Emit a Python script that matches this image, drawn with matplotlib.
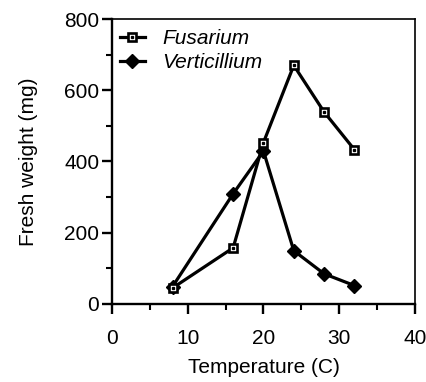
import matplotlib
matplotlib.use('Agg')
import matplotlib.pyplot as plt
from matplotlib.ticker import MultipleLocator
from matplotlib.legend_handler import HandlerTuple

temperature = [8, 16, 20, 24, 28, 32]
fusarium = [44, 157, 453, 670, 539, 433]
verticillium = [48, 309, 429, 149, 84, 51]

plt.rcParams['font.family'] = ['Liberation Sans', 'DejaVu Sans']

fig = plt.figure(figsize=(4.27, 3.82), dpi=100)
ax = fig.add_axes([0.262, 0.205, 0.710, 0.745])

# open square with a small dot in the middle
fus_line, = ax.plot(temperature, fusarium, color='black', lw=2.3, marker='s', ms=6.3,
                    mfc='white', mec='black', mew=1.9, zorder=3)
fus_dot, = ax.plot(temperature, fusarium, ls='none', marker='s', ms=1.4,
                   color='black', zorder=4)
ver_line, = ax.plot(temperature, verticillium, color='black', lw=2.3, marker='D', ms=7.3,
                    mfc='black', mec='black', zorder=2)

ax.set_xlim(0, 40)
ax.set_ylim(0, 800)
ax.xaxis.set_major_locator(MultipleLocator(10))
ax.xaxis.set_minor_locator(MultipleLocator(5))
ax.yaxis.set_major_locator(MultipleLocator(200))
ax.yaxis.set_minor_locator(MultipleLocator(100))
ax.tick_params(which='major', direction='out', length=7.5, width=1.7, labelsize=15)
ax.tick_params(which='minor', direction='out', length=4, width=1.5)
ax.tick_params(axis='x', which='major', pad=11)
ax.tick_params(axis='y', which='major', pad=1.5)
for side in ['left', 'bottom']:
    ax.spines[side].set_linewidth(1.7)
for side in ['top', 'right']:
    ax.spines[side].set_linewidth(1.2)

ax.set_xlabel('Temperature (C)', fontsize=15, labelpad=7)
ax.set_ylabel('Fresh weight (mg)', fontsize=15, labelpad=19)

ax.legend([(fus_line, fus_dot), ver_line], ['Fusarium', 'Verticillium'],
          handler_map={tuple: HandlerTuple(ndivide=1, pad=0)},
          loc='upper left', bbox_to_anchor=(0.026, 0.965), frameon=False,
          prop={'style': 'italic', 'size': 15}, borderpad=0, borderaxespad=0,
          handlelength=1.2, labelspacing=0.25, handletextpad=0.85)

fig.savefig('out.png', dpi=100)
